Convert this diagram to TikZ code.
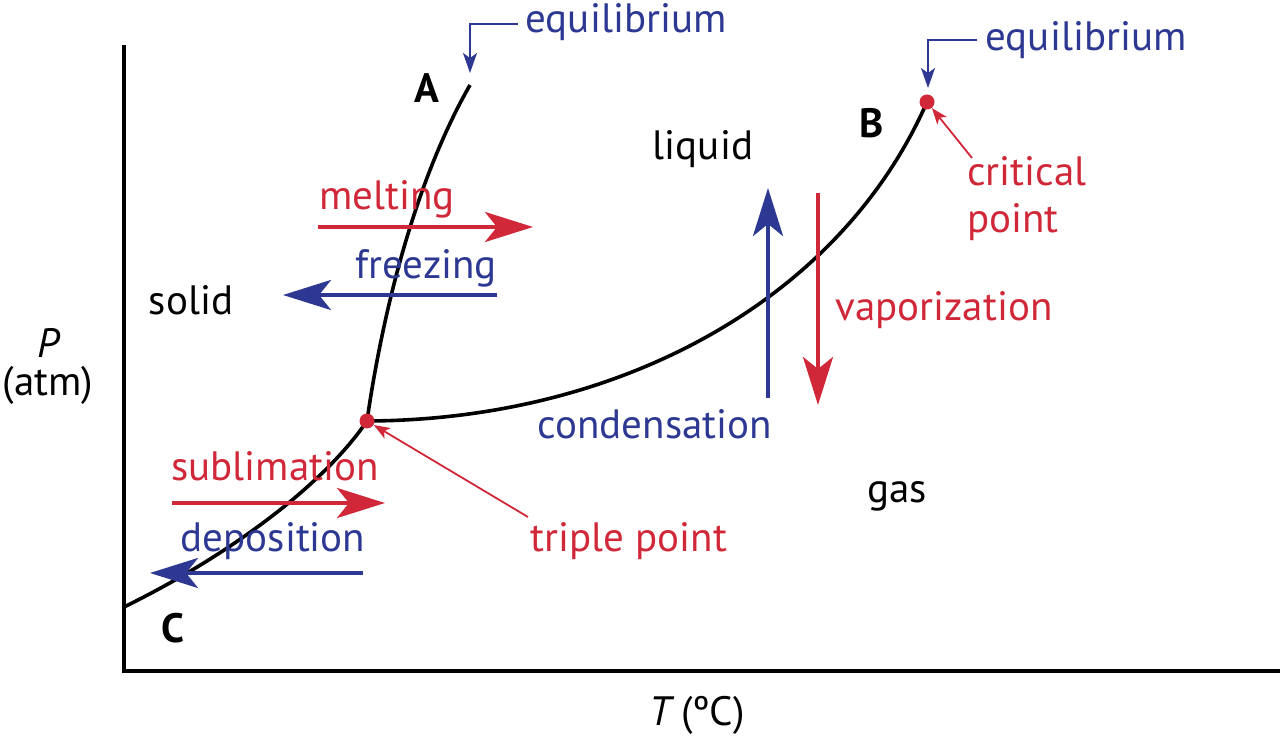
\documentclass[tikz,border=0pt]{standalone}
\usepackage{fontspec}
\setmainfont{PT Sans}
\usetikzlibrary{arrows.meta}

\definecolor{phred}{RGB}{208,40,56}
\definecolor{phblue}{RGB}{44,56,146}

\begin{document}
\begin{tikzpicture}[x=0.5pt, y=-0.5pt,
    lbl/.style={font=\fontsize{20.5}{23.5}\selectfont, inner sep=0pt},
    redlbl/.style={lbl, text=phred},
    bluelbl/.style={lbl, text=phblue},
    bigarrow/.style={line width=2pt, -{Stealth[length=24pt, width=15pt, inset=6pt]}},
    thinarrow/.style={line width=0.9pt, phred, -{Stealth[length=8pt, width=6pt, inset=2pt]}},
    eqarrow/.style={line width=0.9pt, phblue, -{Stealth[length=10pt, width=7pt, inset=2.5pt]}},
    phase/.style={line width=1.8pt},
    dot/.style={circle, fill=phred, inner sep=0pt, minimum size=7.5pt}
]
    \useasboundingbox (0,0) rectangle (1280,737);

    % axes
    \coordinate (ytop) at (124,45);
    \coordinate (origin) at (124,671);
    \coordinate (xend) at (1280,671);
    \draw[line width=2pt] (ytop) -- (origin) -- (xend);
    \node[lbl] (P) at (48,343) {\itshape P};
    \node[lbl] (atm) at (48,385) {(atm)};
    \node[lbl] (Tlbl) at (697,715) {\itshape T\upshape\ (ºC)};

    % phase boundaries
    \coordinate (C) at (124,607);
    \coordinate (T) at (367,421);
    \coordinate (A) at (470,85);
    \coordinate (B) at (927,102);
    \draw[phase] (C) .. controls (220,560) and (320,490) .. (T);
    \draw[phase] (T) .. controls (380,330) and (410,190) .. (A);
    \draw[phase] (T) .. controls (620,420) and (840,300) .. (B);
    \node[dot] (tp) at (T) {};
    \node[dot] (cp) at (B) {};

    \node[lbl] (labA) at (427,88) {\bfseries A};
    \node[lbl] (labB) at (872,123) {\bfseries B};
    \node[lbl] (labC) at (173,628) {\bfseries C};

    % regions
    \node[lbl] (liquid) at (703,149) {liquid};
    \node[lbl] (solid) at (191,300) {solid};
    \node[lbl] (gas) at (897,496) {gas};

    % equilibrium
    \node[bluelbl] (eqA) at (626,22) {equilibrium};
    \coordinate (eqAs) at (518,24);
    \coordinate (eqAt) at (470,73);
    \draw[eqarrow] (eqAs) -| (eqAt);
    \node[bluelbl] (eqB) at (1086,40) {equilibrium};
    \coordinate (eqBs) at (977,40);
    \coordinate (eqBt) at (928,88);
    \draw[eqarrow] (eqBs) -| (eqBt);

    % melting and freezing
    \node[redlbl] (melt) at (387,199) {melting};
    \coordinate (melt1) at (318,227);
    \coordinate (melt2) at (533,227);
    \draw[bigarrow, phred] (melt1) -- (melt2);
    \node[bluelbl] (freeze) at (426,268) {freezing};
    \coordinate (freeze1) at (497,295);
    \coordinate (freeze2) at (283,295);
    \draw[bigarrow, phblue] (freeze1) -- (freeze2);

    % sublimation and deposition
    \node[redlbl] (subl) at (275,466) {sublimation};
    \coordinate (subl1) at (172,503);
    \coordinate (subl2) at (385,503);
    \draw[bigarrow, phred] (subl1) -- (subl2);
    \node[bluelbl] (depo) at (273,541) {deposition};
    \coordinate (depo1) at (363,573);
    \coordinate (depo2) at (150,573);
    \draw[bigarrow, phblue] (depo1) -- (depo2);

    % condensation and vaporization
    \node[bluelbl] (cond) at (655,424) {condensation};
    \coordinate (cond1) at (768,398);
    \coordinate (cond2) at (768,188);
    \draw[bigarrow, phblue] (cond1) -- (cond2);
    \node[redlbl] (vap) at (944,310) {vaporization};
    \coordinate (vap1) at (818,193);
    \coordinate (vap2) at (818,405);
    \draw[bigarrow, phred] (vap1) -- (vap2);

    % points
    \node[redlbl, align=left, anchor=west] (crit) at (967,199) {critical\\point};
    \coordinate (crit1) at (972,158);
    \draw[thinarrow] (crit1) -- (cp);
    \node[redlbl] (triple) at (629,541) {triple point};
    \coordinate (triple1) at (528,517);
    \draw[thinarrow] (triple1) -- (tp);
\end{tikzpicture}
\end{document}
